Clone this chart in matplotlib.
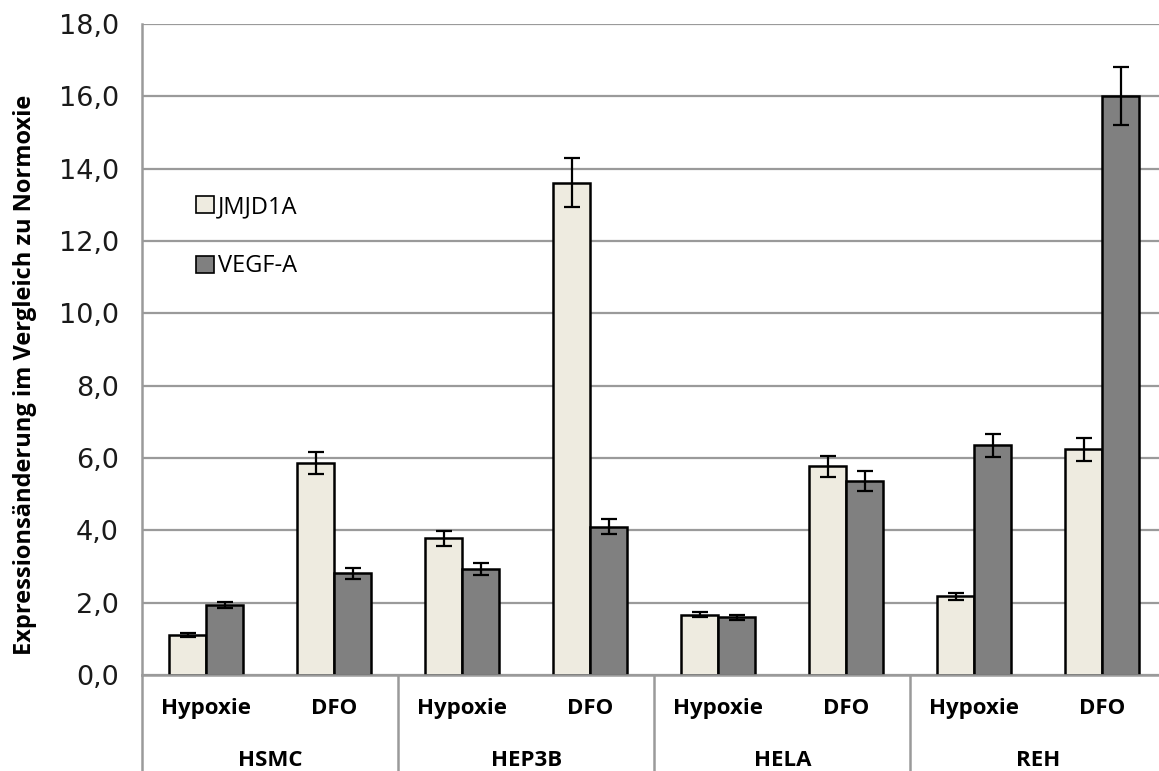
import matplotlib.pyplot as plt
from matplotlib.patches import Patch
from matplotlib.ticker import FuncFormatter
import numpy as np

# Expression change relative to normoxia, per cell line and treatment
cell_lines = ["HSMC", "HEP3B", "HELA", "REH"]
treatments = ["Hypoxie", "DFO"]

jmjd1a = [1.10, 5.87, 3.78, 13.61, 1.67, 5.77, 2.18, 6.24]
jmjd1a_err = [0.05, 0.30, 0.20, 0.68, 0.08, 0.29, 0.10, 0.32]
vegfa = [1.93, 2.81, 2.93, 4.10, 1.59, 5.37, 6.35, 16.02]
vegfa_err = [0.09, 0.15, 0.16, 0.20, 0.07, 0.27, 0.32, 0.80]

series_names = ["JMJD1A", "VEGF-A"]
yticks = [0, 2, 4, 6, 8, 10, 12, 14, 16, 18]

W, H = 1159, 771
fig = plt.figure(figsize=(W / 100, H / 100), dpi=100)
ax = fig.add_axes([142.3 / W, (H - 675) / H, 1024 / W, 651 / H])

x = np.arange(len(jmjd1a))
bw = 0.29
grey_line = "#9a9a9a"

err_kw = dict(ecolor="black", elinewidth=1.6, capsize=6, capthick=1.6)
ax.bar(x - bw / 2, jmjd1a, bw, yerr=jmjd1a_err, color="#eeebe0",
       edgecolor="black", linewidth=1.8, error_kw=err_kw, zorder=3)
ax.bar(x + bw / 2, vegfa, bw, yerr=vegfa_err, color="#808080",
       edgecolor="black", linewidth=1.8, error_kw=err_kw, zorder=3)

ax.set_xlim(-0.5, 7.5)
ax.set_ylim(0, 18)
ax.set_yticks(yticks)
ax.yaxis.set_major_formatter(FuncFormatter(lambda v, p: f"{v:.1f}".replace(".", ",")))
ax.tick_params(axis="y", length=0, pad=17, labelsize=19.5)
ax.tick_params(axis="x", length=0, labelbottom=False)
for lbl in ax.get_yticklabels():
    lbl.set_fontfamily("DejaVu Sans")
    lbl.set_color("#1a1a1a")

ax.grid(axis="y", color=grey_line, linewidth=1.6, zorder=0)
for side in ["top", "right"]:
    ax.spines[side].set_visible(False)
ax.spines["left"].set_color(grey_line)
ax.spines["left"].set_linewidth(1.8)
ax.spines["bottom"].set_color(grey_line)
ax.spines["bottom"].set_linewidth(1.8)
ax.spines["bottom"].set_zorder(4)

# two-level category axis
tr = ax.get_xaxis_transform()
for i, xi in enumerate(x):
    ax.text(xi, -0.0507, treatments[i % 2], transform=tr, ha="center",
            va="center", fontsize=16, fontweight="bold", family="Open Sans")
for g, name in enumerate(cell_lines):
    ax.text(2 * g + 0.5, -0.1306, name, transform=tr, ha="center",
            va="center", fontsize=16, fontweight="bold", family="Open Sans")
for sep in np.arange(-0.5, 8, 2):
    ax.plot([sep, sep], [0, -0.2], transform=tr, color=grey_line,
            linewidth=1.8, clip_on=False)

handles = [Patch(facecolor="#eeebe0", edgecolor="black", linewidth=1.2),
           Patch(facecolor="#808080", edgecolor="black", linewidth=1.2)]
ax.legend(handles, series_names, loc="upper left",
          bbox_to_anchor=(0.032, 0.77), frameon=False,
          handlelength=0.75, handleheight=0.75, handletextpad=0.15,
          labelspacing=1.5, prop={"family": "Open Sans", "size": 17})

fig.text(25 / W, 1 - 375 / H, "Expressionsänderung im Vergleich zu Normoxie",
         rotation=90, ha="center", va="center", fontsize=17,
         fontweight="bold", family="Open Sans")

fig.savefig("out.png", dpi=100)
